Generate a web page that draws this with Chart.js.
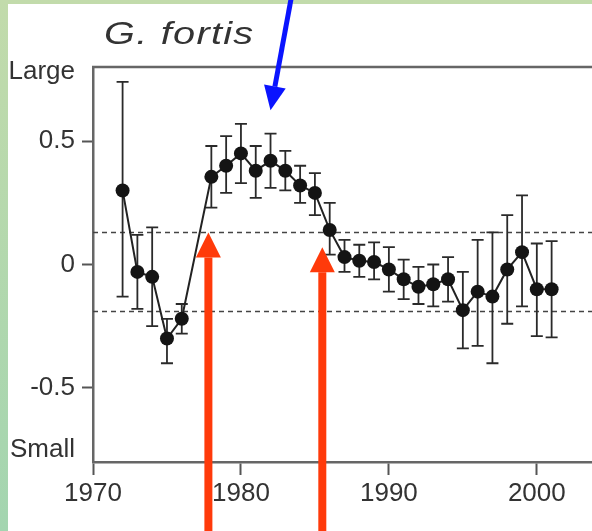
<!DOCTYPE html>
<html>
<head>
<meta charset="utf-8">
<title>G. fortis</title>
<script src="https://cdn.jsdelivr.net/npm/chart.js@4.4.1/dist/chart.umd.min.js"></script>
<style>
    html, body { margin: 0; padding: 0; overflow: hidden; background: #b7d8a8; }
    #chart { display: block; }
</style>
</head>
<body>
<canvas id="chart" width="620" height="531"></canvas>
<script>
// Yearly beak size index for G. fortis (no sample for 1977)
const years = [1972, 1973, 1974, 1975, 1976,
    1978, 1979, 1980, 1981, 1982, 1983, 1984, 1985,
    1986, 1987, 1988, 1989, 1990, 1991, 1992, 1993, 1994, 1995, 1996, 1997, 1998, 1999, 2000, 2001];
const means = [0.30, -0.03, -0.05, -0.30, -0.22,
    0.355, 0.40, 0.45, 0.38, 0.42, 0.38, 0.32, 0.29,
    0.14, 0.03, 0.015, 0.01, -0.02, -0.06, -0.09, -0.08, -0.06, -0.185, -0.11, -0.13, -0.02, 0.05, -0.10, -0.10];
const upperErr = [0.74, 0.12, 0.15, -0.22, -0.16,
    0.48, 0.52, 0.57, 0.48, 0.53, 0.46, 0.40, 0.37,
    0.25, 0.10, 0.08, 0.09, 0.07, 0.02, -0.01, 0.00, 0.03, -0.03, 0.10, 0.13, 0.20, 0.28, 0.085, 0.095];
const lowerErr = [-0.13, -0.18, -0.25, -0.40, -0.28,
    0.23, 0.29, 0.33, 0.27, 0.31, 0.30, 0.25, 0.20,
    0.04, -0.03, -0.05, -0.06, -0.11, -0.14, -0.16, -0.17, -0.15, -0.34, -0.33, -0.40, -0.24, -0.17, -0.29, -0.295];

const refLines = [0.13, -0.19];
const xTicks = [1970, 1980, 1990, 2000];
const yTickValues = [0.78, 0.5, 0, -0.5, -0.75];
const yTickLabels = ['Large', '0.5', '0', '-0.5', 'Small'];
const titleText = 'G. fortis';

// annotation arrows, in data units (year, value)
const redArrowYears = [1977.8, 1985.5];
const redArrowTips = [0.13, 0.07];
const blueArrowFrom = [1983.4, 1.08];
const blueArrowTo = [1982.0, 0.625];

const FONT = '"Liberation Sans", Arial, sans-serif';
const INK = '#333';

function drawArrow(ctx, x1, y1, x2, y2, shaftW, headW, headL, color) {
    const ang = Math.atan2(y2 - y1, x2 - x1);
    const bx = x2 - Math.cos(ang) * headL;
    const by = y2 - Math.sin(ang) * headL;
    ctx.save();
    ctx.strokeStyle = color;
    ctx.fillStyle = color;
    ctx.lineWidth = shaftW;
    ctx.beginPath();
    ctx.moveTo(x1, y1);
    ctx.lineTo(bx, by);
    ctx.stroke();
    const nx = -Math.sin(ang) * headW / 2;
    const ny = Math.cos(ang) * headW / 2;
    ctx.beginPath();
    ctx.moveTo(x2, y2);
    ctx.lineTo(bx + nx, by + ny);
    ctx.lineTo(bx - nx, by - ny);
    ctx.closePath();
    ctx.fill();
    ctx.restore();
}

// green slide background with the white figure panel on top
const backgroundPlugin = {
    id: 'slideBackground',
    beforeDraw(chart) {
        const ctx = chart.ctx;
        const g = ctx.createLinearGradient(0, 0, 0, chart.height);
        g.addColorStop(0, '#c2dbab');
        g.addColorStop(1, '#a3d5b0');
        ctx.save();
        ctx.fillStyle = g;
        ctx.fillRect(0, 0, chart.width, chart.height);
        ctx.fillStyle = '#ffffff';
        ctx.fillRect(8, 4, chart.width, chart.height);
        ctx.restore();
    }
};

// dashed reference lines and error bars, under the points
const errorBarPlugin = {
    id: 'errorBars',
    beforeDatasetsDraw(chart) {
        const ctx = chart.ctx;
        const xs = chart.scales.x;
        const ys = chart.scales.y;
        const area = chart.chartArea;
        ctx.save();
        ctx.strokeStyle = '#444';
        ctx.lineWidth = 1.5;
        ctx.setLineDash([5, 4]);
        refLines.forEach(v => {
            const py = ys.getPixelForValue(v);
            ctx.beginPath();
            ctx.moveTo(area.left, py);
            ctx.lineTo(area.right, py);
            ctx.stroke();
        });
        ctx.setLineDash([]);
        ctx.strokeStyle = '#2a2a2a';
        ctx.lineWidth = 1.8;
        const cap = 6;
        years.forEach((yr, i) => {
            const px = xs.getPixelForValue(yr);
            const top = ys.getPixelForValue(upperErr[i]);
            const bot = ys.getPixelForValue(lowerErr[i]);
            ctx.beginPath();
            ctx.moveTo(px, top);
            ctx.lineTo(px, bot);
            ctx.moveTo(px - cap, top);
            ctx.lineTo(px + cap, top);
            ctx.moveTo(px - cap, bot);
            ctx.lineTo(px + cap, bot);
            ctx.stroke();
        });
        ctx.restore();
    }
};

// top frame line, title and the slide arrows
const overlayPlugin = {
    id: 'overlay',
    afterDraw(chart) {
        const ctx = chart.ctx;
        const xs = chart.scales.x;
        const ys = chart.scales.y;
        const area = chart.chartArea;
        ctx.save();
        ctx.strokeStyle = '#666';
        ctx.lineWidth = 2.5;
        ctx.beginPath();
        ctx.moveTo(area.left - 1, area.top);
        ctx.lineTo(area.right, area.top);
        ctx.stroke();

        // title is a bit stretched in the original figure
        ctx.fillStyle = INK;
        ctx.font = 'italic 31px ' + FONT;
        ctx.letterSpacing = '1px';
        ctx.textBaseline = 'alphabetic';
        ctx.textAlign = 'left';
        ctx.translate(104, 44);
        ctx.scale(1.28, 1);
        ctx.fillText(titleText, 0, 0);
        ctx.restore();

        redArrowYears.forEach((yr, i) => {
            const px = xs.getPixelForValue(yr);
            drawArrow(ctx, px, chart.height + 10, px, ys.getPixelForValue(redArrowTips[i]), 8, 25, 25, '#ff3a0a');
        });
        drawArrow(ctx,
            xs.getPixelForValue(blueArrowFrom[0]), ys.getPixelForValue(blueArrowFrom[1]),
            xs.getPixelForValue(blueArrowTo[0]), ys.getPixelForValue(blueArrowTo[1]),
            5, 22, 24, '#0a14ff');
    }
};

const points = years.map((yr, i) => ({ x: yr, y: means[i] }));

const chart = new Chart(document.getElementById('chart').getContext('2d'), {
    type: 'line',
    data: {
        datasets: [{
            label: titleText,
            data: points,
            borderColor: '#222',
            borderWidth: 2,
            tension: 0,
            pointRadius: 7,
            pointBackgroundColor: '#141414',
            pointBorderWidth: 0,
            clip: false
        }]
    },
    options: {
        responsive: false,
        animation: false,
        devicePixelRatio: 1,
        layout: { padding: { left: 0, top: 67, right: 24, bottom: 0 } },
        plugins: {
            legend: { display: false },
            title: { display: false },
            tooltip: { enabled: false }
        },
        scales: {
            x: {
                type: 'linear',
                min: 1970,
                max: 2004,
                afterFit: scale => { scale.height = 69; },
                afterBuildTicks: scale => { scale.ticks = xTicks.map(v => ({ value: v })); },
                grid: { drawOnChartArea: false, tickLength: 13, tickColor: '#555', tickWidth: 2 },
                border: { display: true, color: '#666', width: 2.5 },
                ticks: {
                    autoSkip: false,
                    maxRotation: 0,
                    padding: 3,
                    color: INK,
                    font: { family: FONT, size: 26 },
                    callback: v => String(v)
                }
            },
            y: {
                min: -0.8,
                max: 0.8,
                afterFit: scale => { scale.width = 93; },
                afterBuildTicks: scale => { scale.ticks = yTickValues.map(v => ({ value: v })); },
                grid: {
                    drawOnChartArea: false,
                    tickLength: 11,
                    tickWidth: 2,
                    tickColor: c => (c.tick && isNaN(Number(c.tick.label))) ? 'rgba(0,0,0,0)' : '#555'
                },
                border: { display: true, color: '#666', width: 2.5 },
                ticks: {
                    autoSkip: false,
                    padding: 7,
                    color: INK,
                    font: { family: FONT, size: 26 },
                    callback: v => {
                        const i = yTickValues.indexOf(v);
                        return i >= 0 ? yTickLabels[i] : '';
                    }
                }
            }
        }
    },
    plugins: [backgroundPlugin, errorBarPlugin, overlayPlugin]
});
console.log('chart area', chart.chartArea);
</script>
</body>
</html>
